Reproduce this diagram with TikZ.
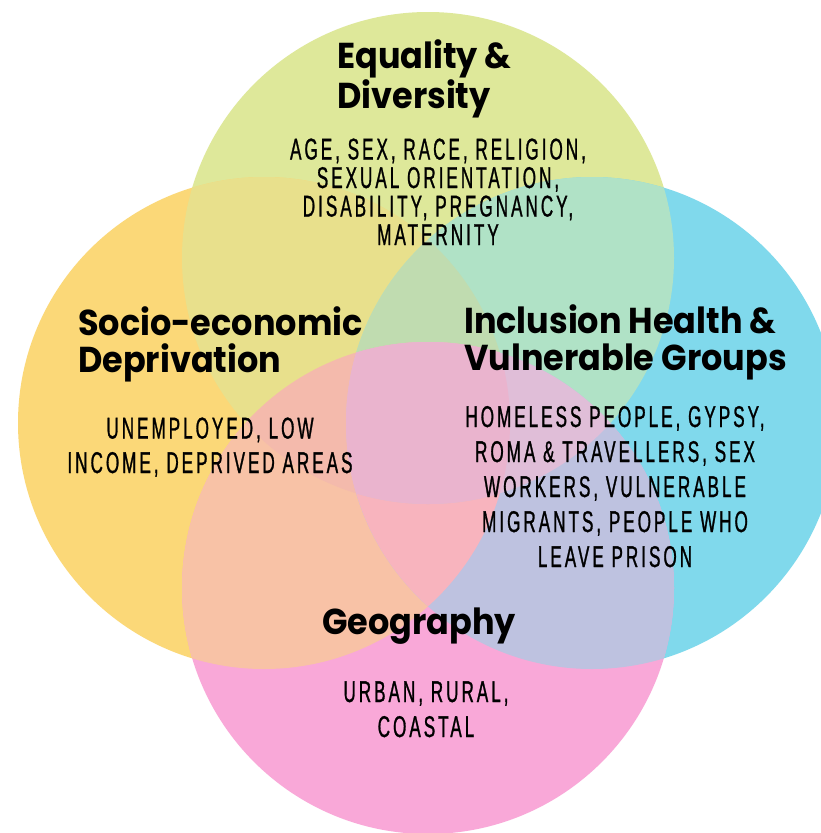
\documentclass[tikz,border=0pt]{standalone}
\usepackage{fontspec}
\usepackage{xcolor}
\newfontfamily\headfont[FakeStretch=0.93]{Poppins}
\newfontfamily\capsfont[FakeStretch=0.57,LetterSpace=10,FakeBold=0.9]{Liberation Sans}

\definecolor{ceq}{HTML}{DEE89A}
\definecolor{cse}{HTML}{FBD878}
\definecolor{cih}{HTML}{80D9EC}
\definecolor{cgeo}{HTML}{F9A8D8}
\definecolor{ceqse}{HTML}{E8E08C}
\definecolor{ceqih}{HTML}{B0E2C6}
\definecolor{csegeo}{HTML}{F8C2A6}
\definecolor{cihgeo}{HTML}{BEC2E0}
\definecolor{ceqseih}{HTML}{C0DCB0}
\definecolor{cseihgeo}{HTML}{F8B4BE}
\definecolor{ceqsegeo}{HTML}{F4BAAC}
\definecolor{ceqihgeo}{HTML}{E0BED8}
\definecolor{call}{HTML}{EAB4CE}

\begin{document}
\begin{tikzpicture}[x=1pt,y=-1pt,
  head/.style={font=\headfont\bfseries\fontsize{36}{37}\selectfont,align=left,anchor=base west,inner sep=0pt},
  caps/.style={font=\capsfont\fontsize{30}{34.5}\selectfont,align=center,anchor=base,inner sep=0pt}]
\fill[white] (0,0) rectangle (821,833);
\useasboundingbox (0,0) rectangle (821,833);
\def\rad{246pt}
\coordinate (eq) at (428,258);
\coordinate (se) at (264,423);
\coordinate (ih) at (592,423);
\coordinate (geo) at (428,588);
% circles, then overlaps
\foreach \pa in {eq,se,ih,geo}
  \fill[fill=c\pa] (\pa) circle (\rad);
\foreach \pa/\pb in {eq/se,eq/ih,se/geo,ih/geo}{
  \begin{scope}\clip (\pa) circle (\rad);
  \fill[fill=c\pa\pb] (\pb) circle (\rad);\end{scope}}
\foreach \pa/\pb/\pc in {eq/se/ih,se/ih/geo,eq/se/geo,eq/ih/geo}{
  \begin{scope}\clip (\pa) circle (\rad);\clip (\pb) circle (\rad);
  \fill[fill=c\pa\pb\pc] (\pc) circle (\rad);\end{scope}}
\begin{scope}\clip (eq) circle (\rad);\clip (se) circle (\rad);\clip (ih) circle (\rad);
\fill[call] (geo) circle (\rad);\end{scope}
% labels (base = last line)
\node[head] (eqhead) at (337,108) {Equality \&\\Diversity};
\node[caps,font=\capsfont\fontsize{30}{28.5}\selectfont] (eqtext) at (438,245)
  {AGE, SEX, RACE, RELIGION,\\SEXUAL ORIENTATION,\\DISABILITY, PREGNANCY,\\MATERNITY};
\node[head] (sehead) at (78,372) {Socio-economic\\Deprivation};
\node[caps] (setext) at (210,473) {UNEMPLOYED, LOW\\INCOME, DEPRIVED AREAS};
\node[head] (ihhead) at (464,370) {Inclusion Health \&\\Vulnerable Groups};
\node[caps,font=\capsfont\fontsize{30}{35}\selectfont] (ihtext) at (615,567)
  {HOMELESS PEOPLE, GYPSY,\\ROMA \& TRAVELLERS, SEX\\WORKERS, VULNERABLE\\MIGRANTS, PEOPLE WHO\\LEAVE PRISON};
\node[head] (geohead) at (322,634) {Geography};
\node[caps,font=\capsfont\fontsize{30}{35}\selectfont] (geotext) at (426,737) {URBAN, RURAL,\\COASTAL};
\end{tikzpicture}
\end{document}
